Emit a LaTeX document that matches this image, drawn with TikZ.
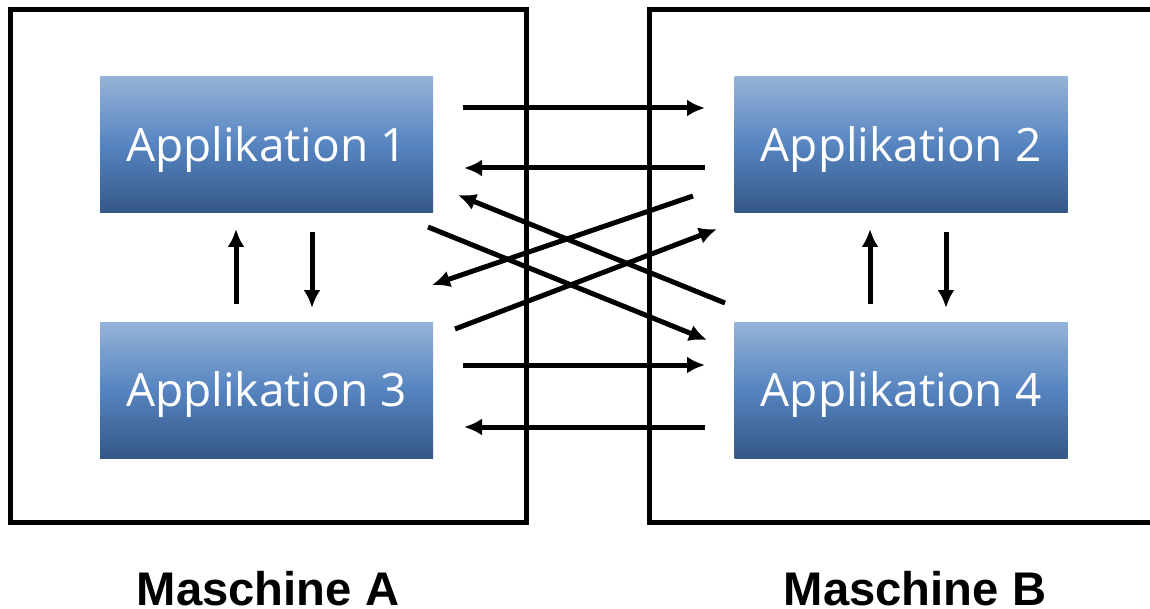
\documentclass[tikz,border=0pt]{standalone}
\usepackage{fontspec}
\setmainfont{Open Sans}
\newfontfamily\labelfont{Liberation Sans}
\usetikzlibrary{arrows.meta,calc}

\definecolor{apptop}{HTML}{95B3D8}
\definecolor{appmid}{HTML}{5684C0}
\definecolor{appbot}{HTML}{345787}

\tikzset{
  machine/.style={draw=black, line width=2.5pt, fill=white, inner sep=0pt,
    minimum width=258pt, minimum height=256pt},
  appbox/.style={inner sep=0pt, minimum width=166.5pt, minimum height=68pt,
    top color=apptop, bottom color=appbot, middle color=appmid,
    text=white, font=\fontsize{23}{27}\selectfont,
    text height=16.5pt, text depth=0pt},
  machinelabel/.style={anchor=base, font=\labelfont\bfseries\fontsize{23.6}{28}\selectfont},
  msg/.style={line width=2.5pt, -{Latex[length=9pt,width=8.5pt]}}
}

\begin{document}
\begin{tikzpicture}[x=0.5pt, y=-0.5pt]
  \useasboundingbox (0,0) rectangle (1150,609);
  \clip (0,0) rectangle (1150,609);

  % the two machines
  \node[machine] (ma) at (268,266) {};
  \node[machine] (mb) at (907,266) {};

  % applications
  \node[appbox] (a1) at (266.5,145) {Applikation 1};
  \node[appbox] (a2) at (901,145) {Applikation 2};
  \node[appbox] (a3) at (266.5,390) {Applikation 3};
  \node[appbox] (a4) at (901,390) {Applikation 4};

  % machine captions
  \node[machinelabel] (la) at (268,605) {Maschine A};
  \node[machinelabel] (lb) at (915,605) {Maschine B};

  % connector end points
  \coordinate (h1s) at (463,108);  \coordinate (h1e) at (705,108);
  \coordinate (h2s) at (705,168);  \coordinate (h2e) at (464,168);
  \coordinate (h3s) at (463,365);  \coordinate (h3e) at (705,365);
  \coordinate (h4s) at (705,427);  \coordinate (h4e) at (464,427);

  \coordinate (d1s) at (725,303);  \coordinate (d1e) at (458,195);
  \coordinate (d2s) at (693,196);  \coordinate (d2e) at (432,285);
  \coordinate (d3s) at (428,227);  \coordinate (d3e) at (707,340);
  \coordinate (d4s) at (455,329);  \coordinate (d4e) at (717,229);

  \coordinate (v1s) at (236,304);  \coordinate (v1e) at (236,229);
  \coordinate (v2s) at (312,232);  \coordinate (v2e) at (312,308);
  \coordinate (v3s) at (870,304);  \coordinate (v3e) at (870,229);
  \coordinate (v4s) at (946,232);  \coordinate (v4e) at (946,308);

  % messages between the machines
  \draw[msg] (h1s) -- (h1e);
  \draw[msg] (h2s) -- (h2e);
  \draw[msg] (h3s) -- (h3e);
  \draw[msg] (h4s) -- (h4e);
  \draw[msg] (d1s) -- (d1e);
  \draw[msg] (d2s) -- (d2e);
  \draw[msg] (d3s) -- (d3e);
  \draw[msg] (d4s) -- (d4e);

  % messages within each machine
  \draw[msg] (v1s) -- (v1e);
  \draw[msg] (v2s) -- (v2e);
  \draw[msg] (v3s) -- (v3e);
  \draw[msg] (v4s) -- (v4e);
\end{tikzpicture}
\end{document}
